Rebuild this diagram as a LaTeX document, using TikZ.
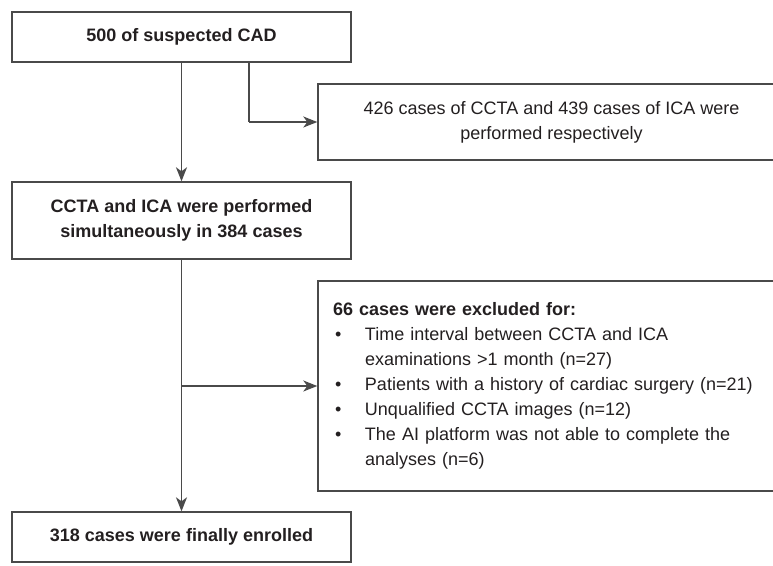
\documentclass[tikz,border=0pt]{standalone}
\usepackage{fontspec}
\setmainfont{Liberation Sans}
\usetikzlibrary{arrows.meta}
\definecolor{linegray}{HTML}{4A4A4A}
\definecolor{txt}{HTML}{231F20}
\begin{document}
\begin{tikzpicture}[x=1pt,y=-1pt,
  boxstyle/.style={draw=linegray,line width=1.4pt,rectangle,inner sep=0pt,text=txt,
    font=\fontsize{18}{25}\selectfont},
  arr/.style={draw=linegray,line width=1.5pt,-{Stealth[length=14pt,width=11pt,inset=4pt]}},
  conn/.style={draw=linegray,line width=1.5pt}]
\useasboundingbox (0,0) rectangle (773,565);
\node[boxstyle,minimum width=339pt,minimum height=50pt,font=\fontsize{18}{25}\selectfont\bfseries] (b1) at (181.5,37) {500 of suspected CAD};
\node[boxstyle,minimum width=467pt,minimum height=76pt,align=center] (b2) at (551.5,122) {426 cases of CCTA and 439 cases of ICA were\\performed respectively};
\node[boxstyle,minimum width=339pt,minimum height=77pt,align=center,font=\fontsize{18}{25}\selectfont\bfseries] (b3) at (181.5,220.5) {CCTA and ICA were performed\\simultaneously in 384 cases};
\node[boxstyle,minimum width=467pt,minimum height=210pt,text width=437pt] (b4) at (551.5,386) {\raggedright
{\bfseries 66 cases were excluded for:}\par
\hangindent=32pt\hangafter=1\makebox[32pt][l]{\hspace{2pt}•}Time interval between CCTA and ICA\newline examinations >1 month (n=27)\par
\hangindent=32pt\hangafter=1\makebox[32pt][l]{\hspace{2pt}•}Patients with a history of cardiac surgery (n=21)\par
\hangindent=32pt\hangafter=1\makebox[32pt][l]{\hspace{2pt}•}Unqualified CCTA images (n=12)\par
\hangindent=32pt\hangafter=1\makebox[32pt][l]{\hspace{2pt}•}The AI platform was not able to complete the\newline analyses (n=6)\par};
\node[boxstyle,minimum width=339pt,minimum height=50pt,font=\fontsize{18}{25}\selectfont\bfseries] (b5) at (181.5,537) {318 cases were finally enrolled};
\coordinate (j1) at (249,122);
\draw[arr] (b1.south) -- (b3.north);
\draw[conn] (b1.south -| j1) -- (j1);
\draw[arr] (j1) -- (b2.west);
\draw[arr] (b3.south) -- (b5.north);
\draw[arr] (b3.south |- b4.west) -- (b4.west);
\end{tikzpicture}
\end{document}
